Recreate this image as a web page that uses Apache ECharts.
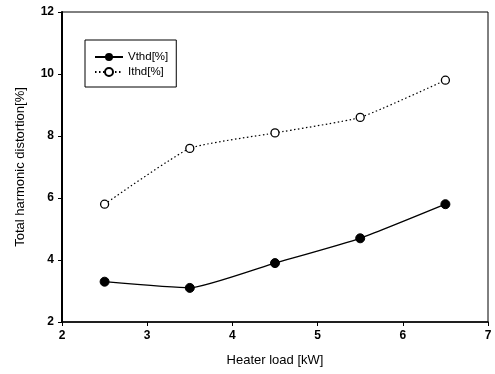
<!DOCTYPE html>
<html><head><meta charset="utf-8">
<script src="https://cdn.jsdelivr.net/npm/echarts@6/dist/echarts.min.js"></script>
<style>html,body{margin:0;padding:0;background:#fff}#c{width:495px;height:374px}</style>
</head><body><div id="c"></div>
<script>
var heaterLoad = [2.5, 3.5, 4.5, 5.5, 6.5];
var vthd = [3.3, 3.1, 3.9, 4.7, 5.8];
var ithd = [5.8, 7.6, 8.1, 8.6, 9.8];
var xTicks = [2, 3, 4, 5, 6, 7];
var yTicks = [2, 4, 6, 8, 10, 12];

function pairs(xs, ys){ return xs.map(function(x,i){return [x, ys[i]];}); }

var chart = echarts.init(document.getElementById('c'), null, {renderer:'canvas'});
var font = 'Liberation Sans, Arial, sans-serif';
chart.setOption({
  animation:false,
  backgroundColor:'#fff',
  grid:{left:62, top:12, right:7, bottom:52, show:true, borderColor:'#000', borderWidth:1},
  legend:{
    left:85, top:40, orient:'vertical',
    borderColor:'#000', borderWidth:1, padding:[11,8,9,9], itemGap:3,
    itemWidth:28, itemHeight:10,
    textStyle:{fontFamily:font, fontSize:11.5, color:'#000'},
    data:['Vthd[%]','Ithd[%]']
  },
  xAxis:{
    type:'value', min:xTicks[0], max:xTicks[xTicks.length-1], interval:1,
    name:'Heater load [kW]', nameLocation:'middle', nameGap:32,
    nameTextStyle:{fontFamily:font, fontSize:13, color:'#000'},
    axisLine:{lineStyle:{color:'#000', width:1.5}},
    axisTick:{show:true, length:4, lineStyle:{color:'#000'}},
    axisLabel:{fontFamily:font, fontSize:12, color:'#000', fontWeight:'bold', margin:8},
    splitLine:{show:false}
  },
  yAxis:{
    type:'value', min:yTicks[0], max:yTicks[yTicks.length-1], interval:2,
    name:'Total harmonic distortion[%]', nameLocation:'middle', nameGap:35,
    nameTextStyle:{fontFamily:font, fontSize:13, color:'#000'},
    axisLine:{show:true, lineStyle:{color:'#000', width:2}},
    axisTick:{show:true, length:4, lineStyle:{color:'#000'}},
    axisLabel:{fontFamily:font, fontSize:12, color:'#000', fontWeight:'bold', margin:8},
    splitLine:{show:false}
  },
  series:[
    {name:'Vthd[%]', type:'line', data:pairs(heaterLoad, vthd),
     symbol:'circle', symbolSize:9, smooth:0.15,
     itemStyle:{color:'#000', borderColor:'#000'},
     lineStyle:{color:'#000', width:1.3, type:'solid'}},
    {name:'Ithd[%]', type:'line', data:pairs(heaterLoad, ithd),
     symbol:'circle', symbolSize:8, smooth:0.15,
     itemStyle:{color:'#fff', borderColor:'#000', borderWidth:1.3},
     lineStyle:{color:'#000', width:1.2, type:[1.5,2.5]}}
  ]
});
</script></body></html>
